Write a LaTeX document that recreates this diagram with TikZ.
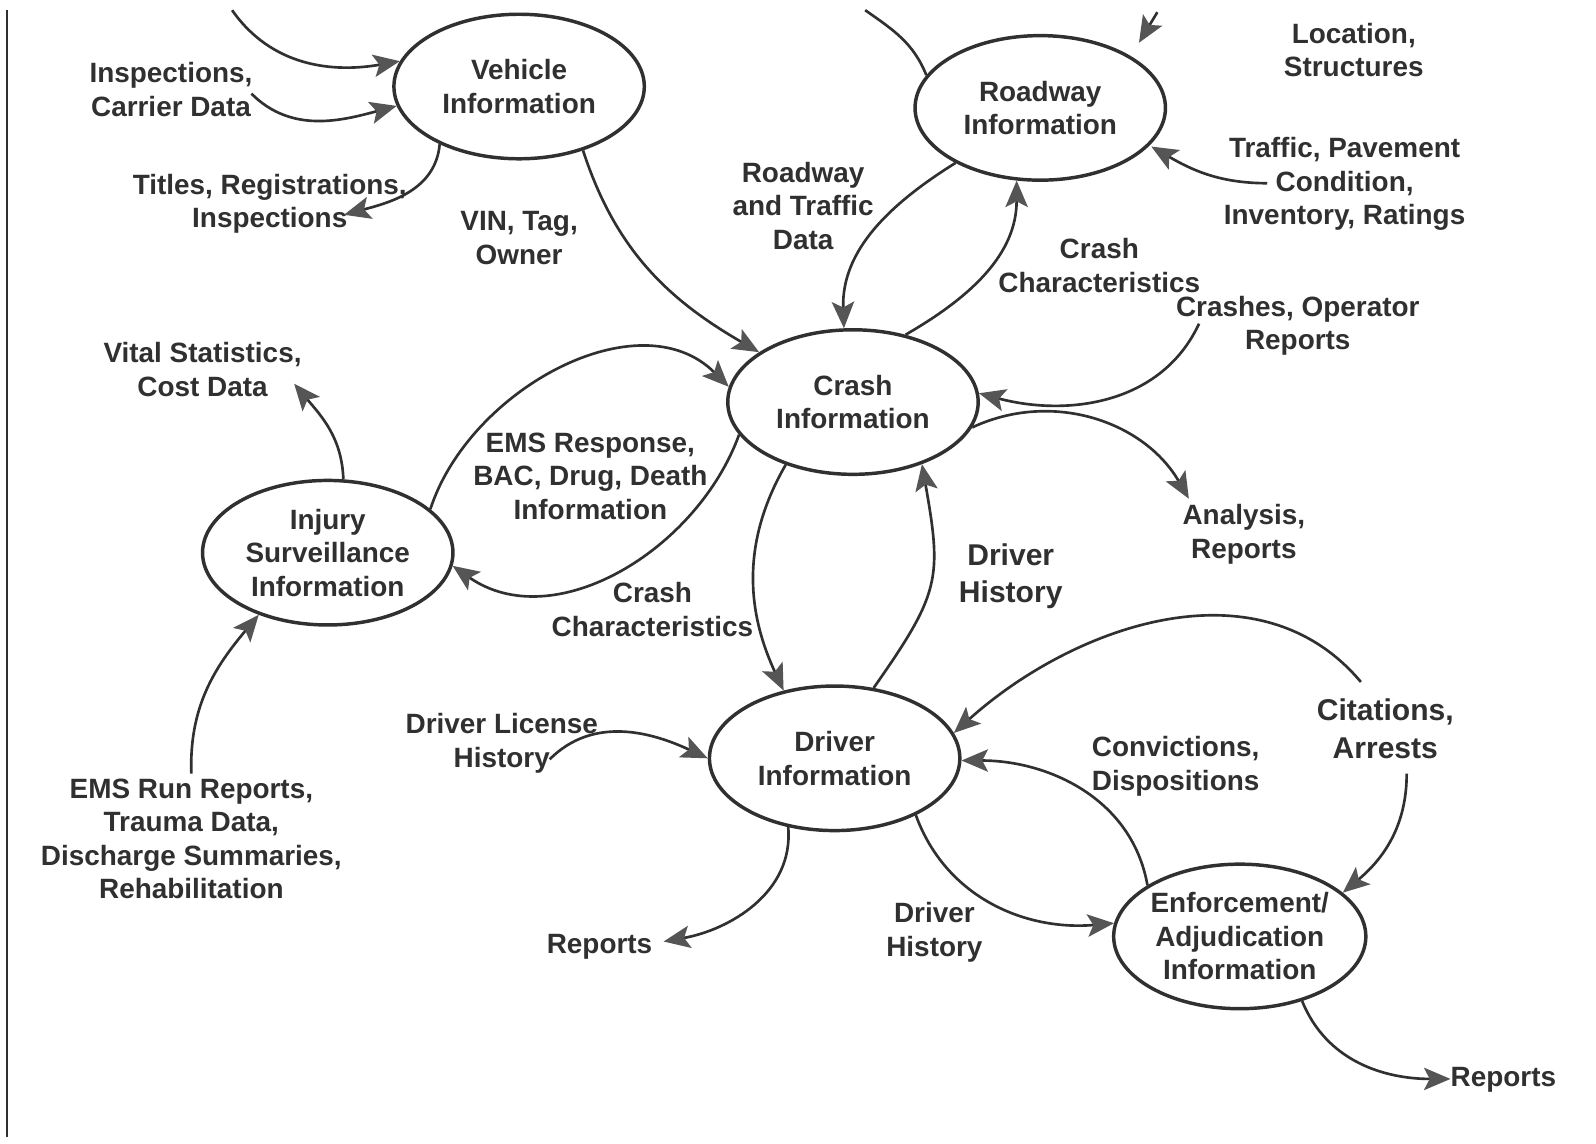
\documentclass[tikz,border=0pt]{standalone}
\usepackage{fontspec}
\setmainfont{Liberation Sans}
\usetikzlibrary{arrows.meta,shapes.geometric}
\definecolor{ink}{HTML}{303030}
\definecolor{headc}{HTML}{555555}
\begin{document}
\begin{tikzpicture}[x=0.25mm,y=-0.25mm,
  every node/.style={font=\bfseries\fontsize{19.5}{23.4}\selectfont, text=ink, align=center, inner sep=0pt},
  big/.style={font=\bfseries\fontsize{21}{26}\selectfont},
  proc/.style={ellipse, draw=ink, line width=0.85mm, minimum width=61.5mm, minimum height=35.5mm},
  flow/.style={draw=ink, line width=0.65mm, -{Stealth[length=6.5mm,width=5.5mm,inset=1.4mm,color=headc]}},
  plain/.style={draw=ink, line width=0.65mm},
]
\fill[white] (0,0) rectangle (1568,1123);
\useasboundingbox (0,0) rectangle (1568,1123);
\coordinate (btop) at (7,10);
\coordinate (bbot) at (7,1117);
\draw[ink, line width=0.5mm] (btop) -- (bbot);

% processes
\node[proc] (veh) at (510,85) {Vehicle\\Information};
\node[proc] (road) at (1022,106) {Roadway\\Information};
\node[proc] (crash) at (838,395) {Crash\\Information};
\node[proc] (inj) at (322,543) {Injury\\Surveillance\\Information};
\node[proc] (drv) at (820,745) {Driver\\Information};
\node[proc] (enf) at (1218,920) {Enforcement/\\Adjudication\\Information};

% labels
\node (tinsp) at (168,88) {Inspections,\\Carrier Data};
\node (ttitles) at (265,200) {Titles, Registrations,\\Inspections};
\node (tvin) at (510,234) {VIN, Tag,\\Owner};
\node (trtd) at (789,202) {Roadway\\and Traffic\\Data};
\node (tloc) at (1330,49) {Location,\\Structures};
\node (ttraffic) at (1321,181) {Traffic, Pavement\\Condition,\\Inventory, Ratings};
\node (tcc1) at (1080,261) {Crash\\Characteristics};
\node (tcrashes) at (1275,320) {Crashes, Operator\\Reports};
\node (tvital) at (199,363) {Vital Statistics,\\Cost Data};
\node (tems) at (580,468) {EMS Response,\\BAC, Drug, Death\\Information};
\node (tanalysis) at (1222,525) {Analysis,\\Reports};
\node (tcc2) at (641,599) {Crash\\Characteristics};
\node[big] (tdh1) at (993,566) {Driver\\History};
\node[big] (tcit) at (1361,716) {Citations,\\Arrests};
\node (tconv) at (1155,753) {Convictions,\\Dispositions};
\node (tdlh) at (493,730) {Driver License\\History};
\node (temsrun) at (188,824) {EMS Run Reports,\\Trauma Data,\\Discharge Summaries,\\Rehabilitation};
\node (trep1) at (589,930) {Reports};
\node (tdh2) at (918,916) {Driver\\History};
\node (trep2) at (1477,1061) {Reports};

% free ends
\coordinate (c1) at (228,10);
\coordinate (c2) at (247,92);
\coordinate (c3) at (338,211);
\coordinate (c5) at (850,10);
\coordinate (c6s) at (1137,12);
\coordinate (c6e) at (1119,42);
\coordinate (c7) at (1245,180);
\coordinate (c10) at (1178,318);
\coordinate (c11) at (1168,490);
\coordinate (c14) at (289,377);
\coordinate (c15) at (188,760);
\coordinate (c18) at (540,746);
\coordinate (c19) at (652,925);
\coordinate (c22) at (1337,670);
\coordinate (c23) at (1382,760);
\coordinate (c24) at (1425,1060);

% connectors
\draw[flow] (c1) to[out=-55, in=190] (veh.168);
\draw[flow] (c2) to[out=-45, in=195] (veh.189);
\draw[flow] (veh.216) to[out=-95, in=15] (c3);
\draw[flow] (veh.315) to[out=-72, in=150] (crash.152);
\draw[plain] (c5) to[out=-35, in=112] (road.164);
\draw[flow] (c6s) -- (c6e);
\draw[flow, shorten >=0.5mm] (c7) to[out=180, in=-30] (road.341);
\draw[flow] (road.213) to[out=212, in=92] (crash.97);
\draw[flow] (crash.52) to[out=30, in=-90] (road.252);
\draw[flow] (c10) to[out=-115, in=-15] (crash.4);
\draw[flow] (crash.348) to[out=25, in=120] (c11);
\draw[flow] (inj.23) to[out=72, in=135] (crash.173);
\draw[flow] (crash.196) to[out=-110, in=-35] (inj.354);
\draw[flow] (inj.78) to[out=92, in=-50] (c14);
\draw[flow] (c15) to[out=92, in=230] (inj.222);
\draw[flow] (crash.223) to[out=240, in=115] (drv.127);
\draw[flow] (drv.61) to[out=55, in=-80, looseness=1.3] (crash.318);
\draw[flow] (c18) to[out=45, in=155] (drv.180);
\draw[flow] (drv.236) to[out=-85, in=10] (c19);
\draw[flow] (drv.325) to[out=-70, in=185] (enf.174);
\draw[flow] (enf.151) to[out=100, in=0] (drv.359);
\draw[flow] (c22) to[out=130, in=42] (drv.12);
\draw[flow] (c23) to[out=-90, in=40] (enf.23);
\draw[flow] (enf.314) to[out=-68, in=180] (c24);
\end{tikzpicture}
\end{document}
